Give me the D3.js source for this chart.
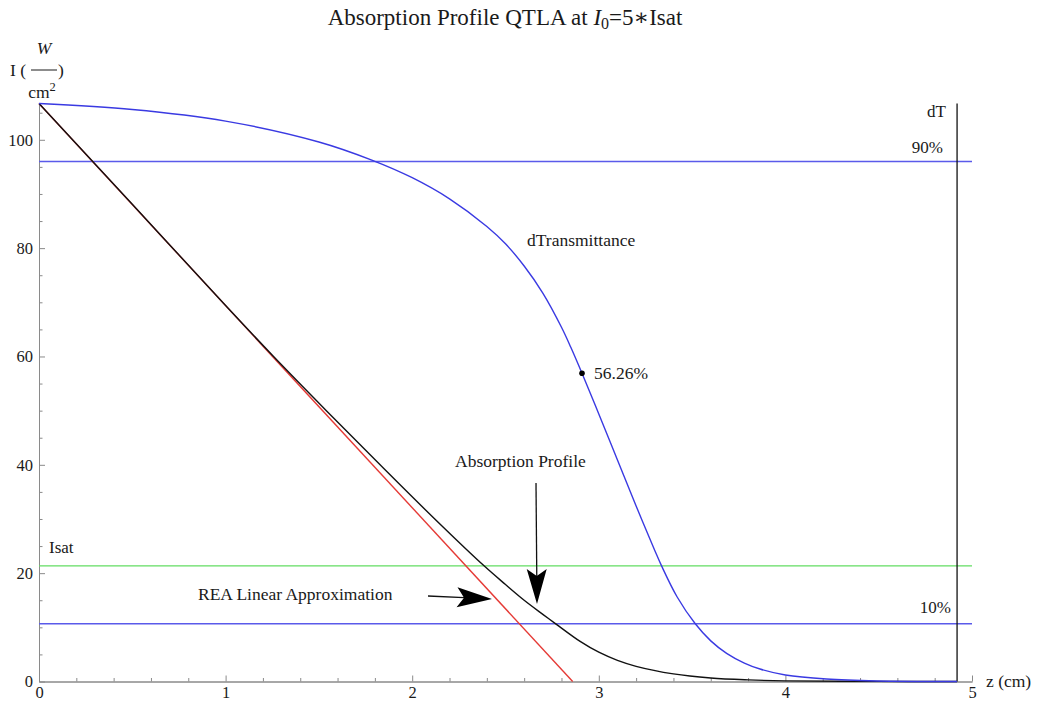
<!DOCTYPE html>
<html>
<head>
<meta charset="utf-8">
<script src="https://cdn.jsdelivr.net/npm/d3@7"></script>
<style>
body{margin:0;background:#fff;}
text{font-family:"Liberation Serif","DejaVu Serif",serif;fill:#1a1a1a;}
</style>
</head>
<body>
<svg id="chart" width="1038" height="705"></svg>
<script>
// values: z in cm, I in W/cm^2
const I0=106.7;
const blueZ=[0,0.5,1.0,1.5,1.78,2.0,2.2,2.4,2.5,2.6,2.7,2.8,2.85,2.91,3.0,3.1,3.2,3.3,3.337,3.42,3.516,3.6,3.685,3.78,3.864,4.0,4.22,4.49,4.92];
const blueI=[106.7,105.6,103.45,99.6,96.3,93.0,89.1,84.0,80.8,76.7,71.7,65.4,61.7,56.9,49.4,40.9,32.4,24.2,21.3,15.6,10.7,7.5,5.2,3.4,2.3,1.2,0.45,0.1,0.01];
const blackZ=[0,0.5,1.0,1.257,1.54,1.828,2.121,2.385,2.5,2.6,2.7,2.771,2.9,3.0,3.1,3.2,3.4,3.6,3.8,4.0,4.5,4.92];
const blackI=[106.7,88.1,69.4,60.0,50.0,40.0,30.0,21.35,17.9,15.0,12.4,10.6,7.4,5.4,3.9,2.8,1.4,0.65,0.3,0.12,0.02,0.005];
const redZ=[0,2.86];
const redI=[106.7,0];
const levelNames=["90%","Isat","10%"];
const levelValues=[96.0,21.35,10.67];
const dTz=4.92;
const markZ=2.91, markI=56.9, markLabel="56.26%";
const xTicks=[0,1,2,3,4,5];
const yTicks=[0,20,40,60,80,100];

const svg=d3.select('#chart');
const x=d3.scaleLinear().domain([0,5]).range([39,972]);
const y=d3.scaleLinear().domain([0,I0]).range([681.5,103.5]);

const toPts=(zs,is)=>zs.map((z,i)=>[z,is[i]]);
const line=d3.line().x(d=>x(d[0])).y(d=>y(d[1])).curve(d3.curveCatmullRom.alpha(0.5));

// axes, ticks pointing inward like Mathematica
const xMinor=d3.range(0,5.001,0.2).filter(v=>Math.abs(v-Math.round(v))>0.01);
const yMinor=d3.range(0,106,5).filter(v=>v%20!=0);

svg.append('g').attr('transform','translate(0,'+y(0)+')')
  .call(d3.axisBottom(x).tickValues(xMinor).tickSizeInner(-3.5).tickSizeOuter(0).tickFormat(''));
svg.append('g').attr('transform','translate('+x(0)+',0)')
  .call(d3.axisLeft(y).tickValues(yMinor).tickSizeInner(-3.5).tickSizeOuter(0).tickFormat(''));
svg.append('g').attr('transform','translate(0,'+y(0)+')')
  .call(d3.axisBottom(x).tickValues(xTicks).tickSizeInner(-6).tickSizeOuter(0).tickPadding(5).tickFormat(d3.format('d')));
svg.append('g').attr('transform','translate('+x(0)+',0)')
  .call(d3.axisLeft(y).tickValues(yTicks).tickSizeInner(-6).tickSizeOuter(0).tickPadding(6).tickFormat(d3.format('d')));
svg.selectAll('.domain,.tick line').attr('stroke','#8a8a8a');
svg.selectAll('.tick text').style('font-size','16.5px').style('font-family','"Liberation Serif",serif').attr('fill','#1a1a1a');

// horizontal reference levels
const levelColor={"90%":"#5a5aea","Isat":"#62dd62","10%":"#5a5aea"};
svg.selectAll('line.level').data(levelNames).join('line').attr('class','level')
  .attr('x1',x(0)).attr('x2',x(5))
  .attr('y1',(n,i)=>y(levelValues[i])).attr('y2',(n,i)=>y(levelValues[i]))
  .attr('stroke',n=>levelColor[n]).attr('stroke-width',1.4);

// dT axis
svg.append('line').attr('x1',x(dTz)).attr('x2',x(dTz)).attr('y1',y(I0)).attr('y2',y(0))
  .attr('stroke','#111').attr('stroke-width',1.3);

// curves
svg.append('path').datum(toPts(redZ,redI)).attr('d',line).attr('fill','none').attr('stroke','#e53a36').attr('stroke-width',1.4);
svg.append('path').datum(toPts(blackZ,blackI)).attr('d',line).attr('fill','none').attr('stroke','#111').attr('stroke-width',1.4);
svg.append('path').datum(toPts(blueZ,blueI)).attr('d',line).attr('fill','none').attr('stroke','#3a3ae2').attr('stroke-width',1.4);

svg.append('circle').attr('cx',x(markZ)).attr('cy',y(markI)).attr('r',2.8).attr('fill','#000');

// text
const lab=(t,px,py,size,anchor)=>svg.append('text').attr('x',px).attr('y',py)
  .style('font-size',(size||17.5)+'px').attr('text-anchor',anchor||'start').text(t);

const title=svg.append('text').attr('x',505).attr('y',25).attr('text-anchor','middle').style('font-size','23px');
title.append('tspan').text('Absorption Profile QTLA at ');
title.append('tspan').style('font-style','italic').text('I');
title.append('tspan').attr('dy',4).style('font-size','16px').text('0');
title.append('tspan').attr('dy',-4).text('=5\u2217Isat');

// y axis label I (W / cm^2)
lab('I (',10,76,17.5);
svg.append('text').attr('x',44).attr('y',54).attr('text-anchor','middle').style('font-size','17.5px').style('font-style','italic').text('W');
svg.append('line').attr('x1',31).attr('x2',57).attr('y1',70).attr('y2',70).attr('stroke','#1a1a1a').attr('stroke-width',1);
lab(')',58,76,17.5);
const cm=svg.append('text').attr('x',42).attr('y',98).attr('text-anchor','middle').style('font-size','17.5px');
cm.append('tspan').text('cm');
cm.append('tspan').attr('dy',-7).style('font-size','12.5px').text('2');

lab('z (cm)',986,687);
lab('dT',946,117,17,'end');
lab('90%',943,153,17,'end');
lab('10%',951,613,17,'end');
lab('Isat',49,553,17);
lab('dTransmittance',527,246);
lab(markLabel,x(markZ)+12,y(markI)+6);
lab('Absorption Profile',455,467);
lab('REA Linear Approximation',198,600);

// arrows
function arrow(x1,y1,x2,y2){
  const a=Math.atan2(y2-y1,x2-x1), L=35, W=10, N=28;
  const px=-Math.sin(a), py=Math.cos(a);
  const bx=x2-L*Math.cos(a), by=y2-L*Math.sin(a);
  const nx=x2-N*Math.cos(a), ny=y2-N*Math.sin(a);
  svg.append('line').attr('x1',x1).attr('y1',y1).attr('x2',nx).attr('y2',ny).attr('stroke','#111').attr('stroke-width',1.3);
  svg.append('path').attr('d','M'+x2+','+y2+'L'+(bx+W*px)+','+(by+W*py)+'L'+nx+','+ny+'L'+(bx-W*px)+','+(by-W*py)+'Z').attr('fill','#000');
}
arrow(536,483,537,604);
arrow(428,596,492,599);
</script>
</body>
</html>
